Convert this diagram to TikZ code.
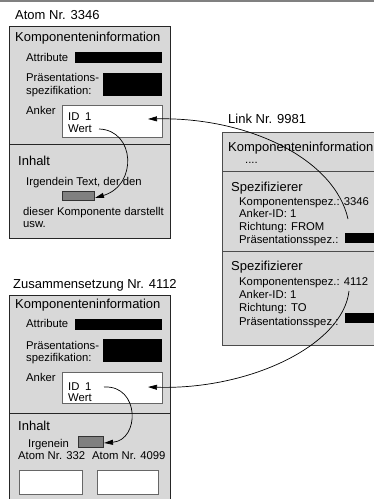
\documentclass[tikz,border=0pt]{standalone}
\usepackage{fontspec}
\setmainfont{Liberation Sans}
\usetikzlibrary{arrows.meta}
\definecolor{panelgray}{RGB}{216,216,216}
\definecolor{markgray}{RGB}{128,128,128}
\begin{document}
\begin{tikzpicture}[x=1pt,y=-1pt,
  panel/.style={draw=black!85, line width=0.8pt, fill=panelgray, inner sep=0pt, anchor=north west},
  whitebox/.style={draw=black!60, line width=1.1pt, fill=white, inner sep=0pt, anchor=north west},
  bar/.style={fill=black, inner sep=0pt, anchor=north west},
  marker/.style={draw=black!80, line width=0.6pt, fill=markgray, inner sep=0pt, anchor=north west},
  big/.style={anchor=base west, inner sep=0pt, font=\fontsize{13}{15}\selectfont},
  small/.style={anchor=base west, inner sep=0pt, font=\fontsize{11.3}{13}\selectfont},
  divider/.style={draw=black!85, line width=0.8pt},
  linkdiv/.style={draw=black!70, line width=1pt},
  link/.style={draw=black, line width=0.7pt},
  linkarrow/.style={link, -{Triangle[length=9pt,width=5pt]}}
]
\useasboundingbox (0,0) rectangle (374,499);
\draw[gray, line width=1.5pt] (0,0.75) -- (374,0.75);

% ---------- Atom Nr. 3346 ----------
\node[big] (atomtitle) at (15,19) {Atom Nr. 3346};
\node[panel, minimum width=161pt, minimum height=212pt] (atom) at (9,26) {};
\draw[divider] (9,144) -- (170,144);
\node[big] (atomki) at (15,41.5) {Komponenteninformation};
\node[small] (atomattr) at (26,61.5) {Attribute};
\node[bar, minimum width=87pt, minimum height=11pt] (atomattrbar) at (75,52) {};
\node[small] (atompras1) at (26,81) {Präsentations-};
\node[small] (atompras2) at (26,94) {spezifikation:};
\node[bar, minimum width=59pt, minimum height=23pt] (atomprasbar) at (103,73) {};
\node[small] (atomanker) at (26,114) {Anker};
\node[whitebox, minimum width=100pt, minimum height=32pt] (atomankerbox) at (62,105) {};
\node[small] (atomid) at (68,120.5) {ID\enspace 1};
\node[small] (atomwert) at (68,132.5) {Wert};
\node[big] (atominhalt) at (18,165.5) {Inhalt};
\node[small] (atomtext1) at (26,185) {Irgendein Text, der den};
\node[marker, minimum width=32pt, minimum height=9pt] (atommark) at (62,191) {};
\node[small] (atomtext2) at (23,215.5) {dieser Komponente darstellt};
\node[small] (atomtext3) at (23,227) {usw.};

% ---------- Link Nr. 9981 ----------
\node[big] (linktitle) at (228,123) {Link Nr. 9981};
\node[panel, draw=black!70, line width=1pt, minimum width=162pt, minimum height=213pt] (linkbox) at (222,132) {};
\draw[linkdiv] (222,171) -- (384,171);
\draw[linkdiv] (222,251) -- (384,251);
\node[big] (linkki) at (228,151) {Komponenteninformation};
\node[small] (linkdots) at (245,163.5) {....};
\node[big] (spec1) at (231,191) {Spezifizierer};
\node[small] (spec1a) at (239,205) {Komponentenspez.: 3346};
\node[small] (spec1b) at (239,217.5) {Anker-ID: 1};
\node[small] (spec1c) at (239,230.5) {Richtung: FROM};
\node[small] (spec1d) at (239,243) {Präsentationsspez.:};
\node[bar, minimum width=35pt, minimum height=10pt] (spec1bar) at (345,233) {};
\node[big] (spec2) at (231,270.5) {Spezifizierer};
\node[small] (spec2a) at (239,285) {Komponentenspez.: 4112};
\node[small] (spec2b) at (239,298) {Anker-ID: 1};
\node[small] (spec2c) at (239,311.5) {Richtung: TO};
\node[small] (spec2d) at (239,325) {Präsentationsspez.:};
\node[bar, minimum width=35pt, minimum height=10pt] (spec2bar) at (345,313) {};

% ---------- Zusammensetzung Nr. 4112 ----------
\node[big] (comptitle) at (13,288) {Zusammensetzung Nr. 4112};
\node[panel, minimum width=161pt, minimum height=215pt] (comp) at (9,295) {};
\draw[divider] (9,413) -- (170,413);
\node[big] (compki) at (15,308) {Komponenteninformation};
\node[small] (compattr) at (26,327.5) {Attribute};
\node[bar, minimum width=87pt, minimum height=11pt] (compattrbar) at (75,319) {};
\node[small] (comppras1) at (26,349) {Präsentations-};
\node[small] (comppras2) at (26,361.5) {spezifikation:};
\node[bar, minimum width=59pt, minimum height=23pt] (compprasbar) at (103,339) {};
\node[small] (companker) at (26,381.5) {Anker};
\node[whitebox, minimum width=100pt, minimum height=31pt] (compankerbox) at (62,372) {};
\node[small] (compid) at (68,390) {ID\enspace 1};
\node[small] (compwert) at (68,401) {Wert};
\node[big] (compinhalt) at (18,430) {Inhalt};
\node[small] (compirg) at (28,447) {Irgenein};
\node[marker, minimum width=25pt, minimum height=11pt] (compmark) at (78,436) {};
\node[small] (compatom1) at (18,459.5) {Atom Nr. 332};
\node[small] (compatom2) at (92,459.5) {Atom Nr. 4099};
\node[whitebox, minimum width=63pt, minimum height=24pt] (compsub1) at (19,470) {};
\node[whitebox, minimum width=61pt, minimum height=24pt] (compsub2) at (97,470) {};

% ---------- connectors ----------
\coordinate (fromsrc) at (348,219);
\coordinate (fromtip) at (148,119);
\coordinate (tosrc) at (349,291);
\coordinate (totip) at (148,387);
\coordinate (atomwertend) at (99,129);
\coordinate (atommarktip) at (95,198);
\coordinate (compwertend) at (104,387);
\coordinate (compmarktip) at (104,443);

\draw[linkarrow] (fromsrc) .. controls (335,160) and (250,117) .. (fromtip);
\draw[linkarrow] (tosrc) .. controls (343,345) and (250,390) .. (totip);
\draw[linkarrow] (atomwertend) .. controls (135,130) and (138,185) .. (atommarktip);
\draw[linkarrow] (compwertend) .. controls (140,385) and (140,440) .. (compmarktip);
\end{tikzpicture}
\end{document}
